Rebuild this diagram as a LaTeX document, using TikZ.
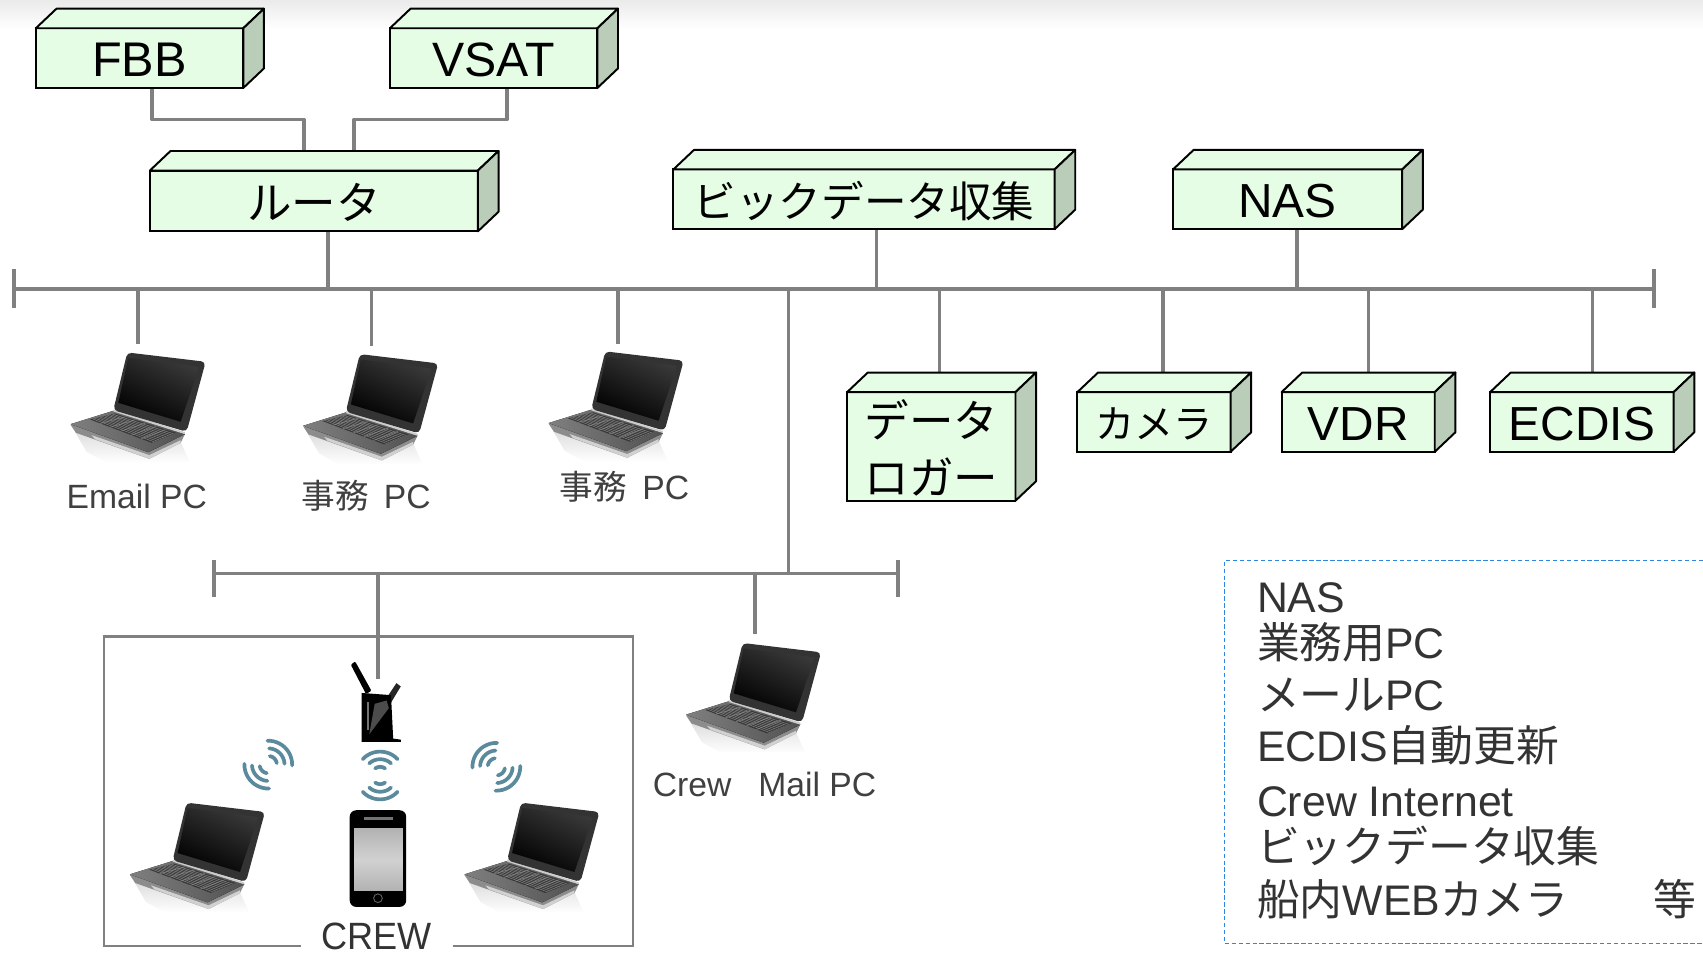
\documentclass[tikz,border=0pt]{standalone}
\usepackage{fontspec}
\usepackage{graphicx}
\setmainfont{Liberation Sans}
\newfontfamily\jp{Noto Sans CJK JP}
\usetikzlibrary{backgrounds,calc}
\definecolor{frontgreen}{HTML}{E5FCE5}
\definecolor{sidegreen}{HTML}{B9CDB9}
\definecolor{wire}{HTML}{808080}
\definecolor{labelgray}{HTML}{404040}
\definecolor{legendgray}{HTML}{333333}
\definecolor{legendblue}{HTML}{2F86E0}
\definecolor{wavecol}{HTML}{5B8A9C}
\newcommand{\boxfont}[1]{\fontsize{#1}{26}\selectfont}
\tikzset{
  box3d/.style={draw=black,line width=.9pt,fill=frontgreen,inner sep=0pt,outer sep=0pt,anchor=north west},
  boxtext/.style={inner sep=0pt,align=center,text=black},
  topface/.style={draw=black,line width=.9pt,line join=round,fill=frontgreen},
  sideface/.style={draw=black,line width=.9pt,line join=round,fill=sidegreen},
  bus/.style={draw=wire,line width=1.7pt},
  thinwire/.style={draw=wire,line width=1.6pt,line join=round},
  pclabel/.style={text=labelgray,font=\fontsize{15.5}{18}\selectfont,inner sep=0pt},
  legendtext/.style={text=legendgray,anchor=base west,inner sep=0pt,font=\fontsize{19.7}{22}\selectfont},
  waves/.style={draw=wavecol,line width=1.7pt,line cap=round},
  laptop/.pic={
    \begin{scope}[x=0.1535pt,y=-0.1535pt,shift={(-60,-97)}]
      \shade[top color=black!13,bottom color=white,draw=none] (75,335) -- (300,412) -- (392,365) -- (420,428) -- (170,428) -- (110,395) -- cycle;
      \fill[black!45] (62,314) -- (78,338) -- (298,416) -- (392,368) -- (405,342) -- cycle;
      \fill[black!18] (125,345) -- (298,405) -- (392,360) -- (392,368) -- (298,416) -- (135,357) -- cycle;
      \fill[left color=black!50,right color=black!68] (62,312) -- (190,272) -- (405,342) -- (295,396) -- cycle;
      \fill[black!20] (190,268) -- (405,336) -- (405,342) -- (190,274) -- cycle;
      \fill[black!78] (120,298) -- (195,280) -- (378,338) -- (305,368) -- cycle;
      \foreach \i in {0.17,0.33,0.5,0.67,0.83}{
        \draw[black!45,line width=.2pt] ($(120,298)!\i!(305,368)$) -- ($(195,280)!\i!(378,338)$);
      }
      \foreach \i in {0.1,0.2,...,0.9}{
        \draw[black!45,line width=.2pt] ($(120,298)!\i!(195,280)$) -- ($(305,368)!\i!(378,338)$);
      }
      \fill[black!80,rounded corners=2pt] (232,97) -- (467,125) -- (410,335) -- (190,270) -- cycle;
      \shade[top color=black!78,bottom color=black,shading angle=-25] (235,113) -- (447,140) -- (392,305) -- (205,248) -- cycle;
    \end{scope}
  },
  wifiicon/.pic={
    \foreach \r/\a in {8/35,15/42,22/47}{
      \draw[waves] (-\a:\r) arc[start angle=-\a,end angle=\a,radius=\r];
      \pgfmathsetmacro{\b}{180-\a}\pgfmathsetmacro{\c}{180+\a}
      \draw[waves] (\b:\r) arc[start angle=\b,end angle=\c,radius=\r];
    }
  }
}
\newcommand{\threeD}[7]{%
  \node[box3d,minimum width=#4*0.5pt,minimum height=#5*0.5pt] (#1) at (#2,#3) {};
  \node[boxtext,font=\boxfont{#6}] (#1-text) at ($(#1.center)+(0,1.5)$) {#7};
  \draw[topface] (#1.north west) -- ++(19,-18) -- ++(#4,0) -- ++(-19,18) -- cycle;
  \draw[sideface] (#1.north east) -- ++(19,-18) -- ++(0,#5) -- ++(-19,18) -- cycle;
}
\begin{document}
\begin{tikzpicture}[x=0.5pt,y=-0.5pt]
\useasboundingbox (0,0) rectangle (1568,880.2);

% boxes
\threeD{fbb}{33}{26}{191}{55}{22.4}{FBB}
\threeD{vsat}{359}{26}{191}{55}{22.2}{VSAT}
\threeD{router}{138}{157}{302}{56}{20.5}{\jp ルータ}
\threeD{bigdata}{620}{156}{351}{55}{19.6}{\jp ビックデータ収集}
\threeD{nas}{1080}{156}{211}{55}{22}{NAS}
\threeD{logger}{780}{361}{155}{100}{20.5}{\jp データ\\\jp ロガー}
\threeD{camera}{992}{361}{141}{55}{18}{\jp カメラ}
\threeD{vdr}{1180}{361}{141}{55}{22}{VDR}
\threeD{ecdis}{1372}{361}{169}{55}{22}{ECDIS}

% bus anchors
\coordinate (busL) at (13,266);
\coordinate (busR) at (1523,266);
\coordinate (subL) at (197,528);
\coordinate (subR) at (827,528);
\coordinate (lapA) at (127,317);
\coordinate (lapB) at (342,319);
\coordinate (lapC) at (569,317);
\coordinate (lapD) at (695,584);
\coordinate (wlan) at (348,625);
\coordinate (trunk) at (726,266);

\begin{scope}[on background layer]
  \fill[white] (0,0) rectangle (1568,880.2);
  \shade[top color=black!8,bottom color=white] (0,0) rectangle (1568,27);
  \draw[bus] (busL) -- (busR);
  \draw[bus] ($(busL)+(0,-18)$) -- ($(busL)+(0,18)$);
  \draw[bus] ($(busR)+(0,-18)$) -- ($(busR)+(0,18)$);
  \draw[bus] (subL) -- (subR);
  \draw[bus] ($(subL)+(0,-12)$) -- ($(subL)+(0,22)$);
  \draw[bus] ($(subR)+(0,-12)$) -- ($(subR)+(0,22)$);
  \draw[bus] (trunk) -- (trunk |- subL);
  \draw[thinwire] (140,0 |- fbb.south) -- (140,110) -- (280,110) -- (280,0 |- router.north);
  \draw[thinwire] (467,0 |- vsat.south) -- (467,110) -- (326,110) -- (326,0 |- router.north);
  \draw[thinwire] (router.south -| 302,0) -- (302,0 |- busL);
  \draw[thinwire] (807,0 |- bigdata.south) -- (807,0 |- busL);
  \draw[thinwire] (1194,0 |- nas.south) -- (1194,0 |- busL);
  \draw[thinwire] (lapA |- busL) -- (lapA);
  \draw[thinwire] (lapB |- busL) -- (lapB);
  \draw[thinwire] (lapC |- busL) -- (lapC);
  \draw[thinwire] (865,0 |- busL) -- (865,0 |- logger.north);
  \draw[thinwire] (1071,0 |- busL) -- (1071,0 |- camera.north);
  \draw[thinwire] (1260,0 |- busL) -- (1260,0 |- vdr.north);
  \draw[thinwire] (1466,0 |- busL) -- (1466,0 |- ecdis.north);
  \draw[thinwire] (lapD |- subL) -- (lapD);
  \draw[thinwire] (wlan |- subL) -- (wlan);
  % crew enclosure
  \draw[wire,line width=1pt] (277,871) -- (96,871) -- (96,586) -- (583,586) -- (583,871) -- (417,871);
\end{scope}

% laptops
\pic at (64.4,324.5) {laptop};
\pic at (278.5,326) {laptop};
\pic at (504.5,323.5) {laptop};
\pic at (631,592) {laptop};
\pic at (119,739) {laptop};
\pic at (427,739) {laptop};

% labels
\node[pclabel] (emailpc) at (126,457) {Email PC};
\node[pclabel] (jimu1) at (337,456) {{\jp 事務}\hspace{.45em}PC};
\node[pclabel] (jimu2) at (575,448) {{\jp 事務}\hspace{.45em}PC};
\node[pclabel] (crewmail) at (704,722) {Crew\hspace{.8em}Mail PC};
\node[text=legendgray,inner sep=0pt,font=\fontsize{17.5}{20}\selectfont] (crew) at (347,862) {\scalebox{.95}[1]{CREW}};

% wifi router
\fill[black,rounded corners=.5pt] (323,612) -- (327,609) -- (342,636) -- (337,639) -- cycle;
\fill[black!85] (365,629) -- (369,632) -- (360,647) -- (355,644) -- cycle;
\fill[black] (333,638) -- (360,640) -- (362,680) -- (369,681) -- (369,683) -- (333,683) -- cycle;
\fill[black!55] (338,646) -- (340,646) -- (340,672) -- (338,672) -- cycle;
\fill[black!70] (340,676) -- (358,652) -- (356,645) -- (345,648) -- cycle;

% wifi waves
\pic[rotate=90] at (350,714) {wifiicon};
\pic[rotate=45] at (247,704) {wifiicon};
\pic[rotate=135] at (457,706) {wifiicon};

% phone
\fill[black,rounded corners=3pt] (322,746) rectangle (374,835);
\shade[top color=black!30,bottom color=black!30,middle color=black!18] (326,763) rectangle (371,820);
\fill[black!55] (335,752) rectangle (362,755);
\draw[black!60,line width=.4pt] (348,827) circle[radius=4];

% legend
\draw[legendblue,line width=.6pt,dash pattern=on 2pt off 1.2pt] (1568,516) -- (1127.5,516) -- (1127.5,869) -- (1568,869);
\node[legendtext] (t1) at (1157,563.5) {NAS};
\node[legendtext] (t2) at (1157,606) {{\jp 業務用}PC};
\node[legendtext] (t3) at (1157,654) {{\jp メール}PC};
\node[legendtext] (t4) at (1157,701) {ECDIS{\jp 自動更新}};
\node[legendtext] (t5) at (1157,752) {Crew Internet};
\node[legendtext] (t6) at (1157,794) {\jp ビックデータ収集};
\node[legendtext] (t7) at (1157,843) {{\jp 船内}WEB{\jp カメラ}};
\node[legendtext] (t8) at (1522,843) {\jp 等};
\end{tikzpicture}
\end{document}
